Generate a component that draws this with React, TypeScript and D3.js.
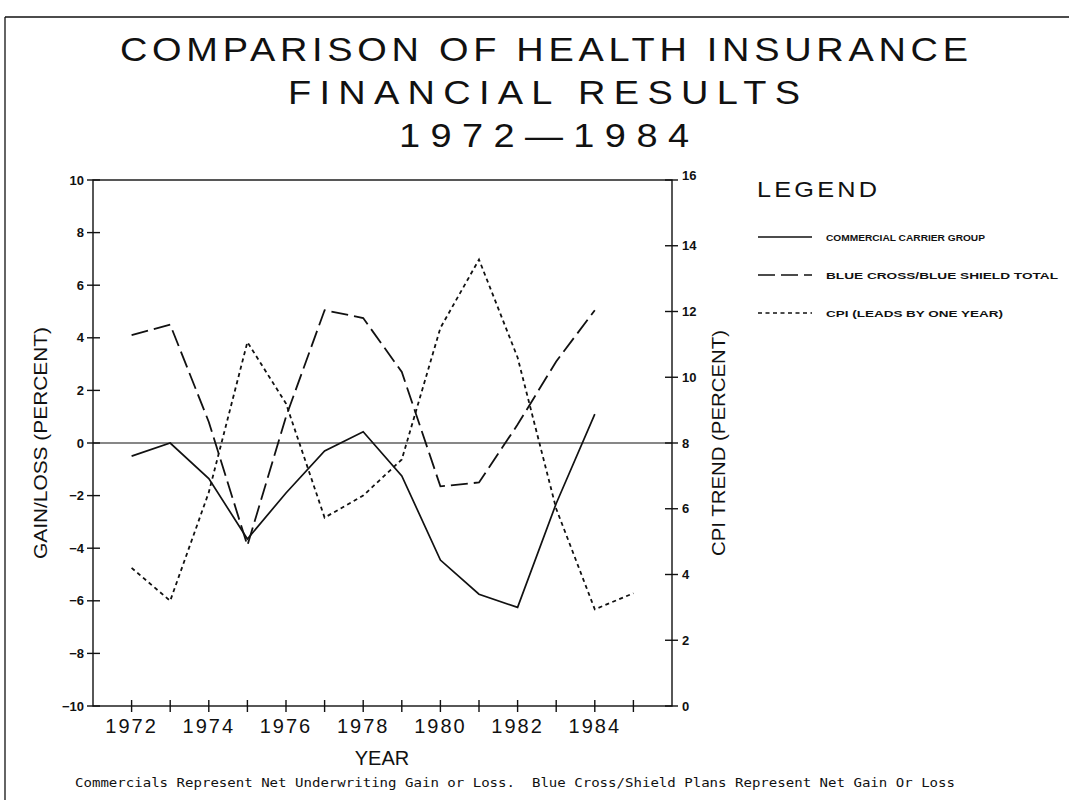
import * as d3 from "d3";

// values
const years = [1972, 1973, 1974, 1975, 1976, 1977, 1978, 1979, 1980, 1981, 1982, 1983, 1984];
const cpiYears = [1972, 1973, 1974, 1975, 1976, 1977, 1978, 1979, 1980, 1981, 1982, 1983, 1984, 1985];
const commercial = [-0.5, 0, -1.35, -3.65, -1.9, -0.3, 0.43, -1.25, -4.45, -5.75, -6.25, -2.3, 1.1];
const blueCross = [4.1, 4.5, 0.8, -3.9, 1.0, 5.05, 4.75, 2.7, -1.65, -1.5, 0.7, 3.1, 5.05];
const cpi = [4.2, 3.2, 6.5, 11.07, 9.2, 5.73, 6.4, 7.5, 11.5, 13.58, 10.6, 6.0, 2.94, 3.43];

const leftTicks = [-10, -8, -6, -4, -2, 0, 2, 4, 6, 8, 10];
const rightTicks = [0, 2, 4, 6, 8, 10, 12, 14, 16];
const yearTicks = d3.range(1972, 1986);
const yearLabels = [1972, 1974, 1976, 1978, 1980, 1982, 1984];

const titleLines = ["COMPARISON OF HEALTH INSURANCE", "FINANCIAL RESULTS", "1972\u20141984"];
const titleWidths = [848, 512, 290];
const legendItems = [
  { label: "COMMERCIAL CARRIER GROUP", dash: "none", len: 159 },
  { label: "BLUE CROSS/BLUE SHIELD TOTAL", dash: "17,6", len: 232 },
  { label: "CPI (LEADS BY ONE YEAR)", dash: "4,3.5", len: 177 }
];

const ink = "#111";
const sans = "'Liberation Sans', Arial, sans-serif";
const wide = 1.15; // plotter lettering is a bit wider than Liberation

export default function App() {
  const W = 1069;
  const H = 800;
  const x = d3.scaleLinear().domain([1971, 1986]).range([93, 672]);
  const yL = d3.scaleLinear().domain([-10, 10]).range([706, 180]);
  const yR = d3.scaleLinear().domain([0, 16]).range([706, 180]);

  const lineL = d3
    .line<number>()
    .x((_, i) => x(years[i]))
    .y((d) => yL(d));
  const lineR = d3
    .line<number>()
    .x((_, i) => x(cpiYears[i]))
    .y((d) => yR(d));

  const [x0, x1] = x.range();
  const [yb, yt] = yL.range();

  return (
    <svg
      width={W}
      height={H}
      style={{ position: "absolute", left: 0, top: 0, background: "#fff" }}
    >
      {/* page frame */}
      <line x1={5} x2={1069} y1={17} y2={17} stroke={ink} strokeWidth={1.3} />
      <line x1={5} x2={5} y1={17} y2={800} stroke={ink} strokeWidth={1.3} />

      {/* title */}
      {titleLines.map((t, i) => (
        <text
          key={t}
          transform={`translate(544,${61 + i * 43}) scale(${wide},1)`}
          textAnchor="middle"
          fontFamily={sans}
          fontSize={33}
          fill={ink}
          textLength={titleWidths[i] / wide}
          lengthAdjust="spacing"
        >
          {t}
        </text>
      ))}

      {/* plot frame */}
      <rect x={x0} y={yt} width={x1 - x0} height={yb - yt} fill="none" stroke={ink} strokeWidth={1.4} />
      <line x1={x0} x2={x1} y1={yL(0)} y2={yL(0)} stroke={ink} strokeWidth={1.2} />

      {/* left axis */}
      {leftTicks.map((t) => (
        <g key={"l" + t}>
          <line x1={x0 - 6} x2={x0 + 7} y1={yL(t)} y2={yL(t)} stroke={ink} strokeWidth={1.4} />
          <text
            x={x0 - 9}
            y={yL(t) + 4.5}
            textAnchor="end"
            fontFamily={sans}
            fontWeight="bold"
            fontSize={13}
            fill={ink}
          >
            {t < 0 ? "\u2212" + Math.abs(t) : t}
          </text>
        </g>
      ))}

      {/* right axis */}
      {rightTicks.map((t) => (
        <g key={"r" + t}>
          <line x1={x1 - 7} x2={x1 + 6} y1={yR(t)} y2={yR(t)} stroke={ink} strokeWidth={1.4} />
          <text
            x={x1 + 10}
            y={yR(t) + (t === 16 ? 0 : 4.5)}
            fontFamily={sans}
            fontWeight="bold"
            fontSize={13}
            fill={ink}
          >
            {t}
          </text>
        </g>
      ))}

      {/* x axis */}
      {yearTicks.map((t) => (
        <line key={"x" + t} x1={x(t)} x2={x(t)} y1={yb - 6} y2={yb + 6} stroke={ink} strokeWidth={1.4} />
      ))}
      {yearLabels.map((t) => (
        <text
          key={"xl" + t}
          x={x(t)}
          y={733}
          textAnchor="middle"
          fontFamily={sans}
          fontSize={20}
          letterSpacing={2}
          fill={ink}
        >
          {t}
        </text>
      ))}
      <text x={382} y={765} textAnchor="middle" fontFamily={sans} fontSize={20} fill={ink}>
        YEAR
      </text>

      {/* axis titles */}
      <text
        transform={`translate(47,${yL(0)}) rotate(-90)`}
        textAnchor="middle"
        fontFamily={sans}
        fontSize={19}
        fill={ink}
        textLength={232}
        lengthAdjust="spacingAndGlyphs"
      >
        GAIN/LOSS (PERCENT)
      </text>
      <text
        transform={`translate(725,${yL(0)}) rotate(-90)`}
        textAnchor="middle"
        fontFamily={sans}
        fontSize={19}
        fill={ink}
        textLength={226}
        lengthAdjust="spacingAndGlyphs"
      >
        CPI TREND (PERCENT)
      </text>

      {/* series */}
      <path d={lineL(commercial) ?? ""} fill="none" stroke={ink} strokeWidth={1.7} />
      <path d={lineL(blueCross) ?? ""} fill="none" stroke={ink} strokeWidth={1.8} strokeDasharray="17,6" />
      <path d={lineR(cpi) ?? ""} fill="none" stroke={ink} strokeWidth={1.8} strokeDasharray="4,3.5" />

      {/* legend */}
      <text
        transform={`translate(757,197) scale(${wide},1)`}
        fontFamily={sans}
        fontSize={22}
        fill={ink}
        textLength={120 / wide}
        lengthAdjust="spacing"
      >
        LEGEND
      </text>
      {legendItems.map((d, i) => {
        const ly = 237 + i * 38;
        return (
          <g key={d.label}>
            <line x1={758} x2={812} y1={ly} y2={ly} stroke={ink} strokeWidth={1.4} strokeDasharray={d.dash} />
            <text
              x={826}
              y={ly + 3.5}
              fontFamily={sans}
              fontWeight="bold"
              fontSize={9.5}
              fill={ink}
              textLength={d.len}
              lengthAdjust="spacingAndGlyphs"
            >
              {d.label}
            </text>
          </g>
        );
      })}

      {/* footnote */}
      <text
        x={75}
        y={787}
        fontFamily="'DejaVu Sans Mono', monospace"
        fontSize={13}
        fill={ink}
        textLength={880}
        lengthAdjust="spacingAndGlyphs"
        style={{ whiteSpace: "pre" }}
      >
        {"Commercials Represent Net Underwriting Gain or Loss.  Blue Cross/Shield Plans Represent Net Gain Or Loss"}
      </text>
    </svg>
  );
}
